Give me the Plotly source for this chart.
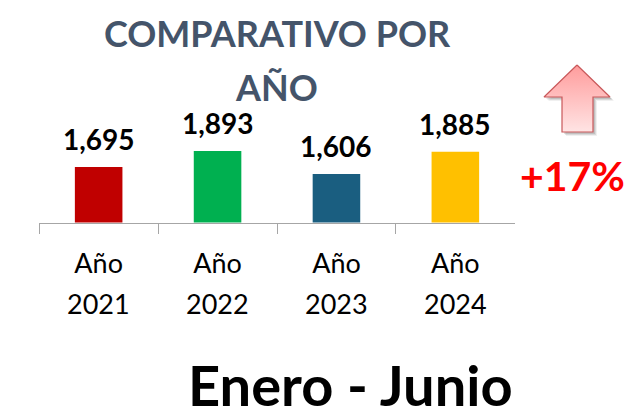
import plotly.graph_objects as go

# --- data -------------------------------------------------------------
years = ["2021", "2022", "2023", "2024"]
totals = [1695, 1893, 1606, 1885]
bar_colors = ["#C00000", "#00B050", "#1A5E80", "#FFC000"]
tick_word = "Año"
title_lines = ["COMPARATIVO POR", "AÑO"]
period_label = "Enero - Junio"

growth_pct = round((totals[-1] / totals[-2] - 1) * 100)
growth_label = f"+{growth_pct}%"

# --- canvas helpers (pixel -> paper fraction) -------------------------
W, H = 628, 418


def fx(px):
    return px / W


def fy(px):
    return (H - px) / H


FONT = "Lato"
TITLE_COLOR = "#44546A"
AXIS_GRAY = "#A6A6A6"

fig = go.Figure()

fig.add_trace(
    go.Bar(
        x=years,
        y=totals,
        width=0.4,
        marker=dict(color=bar_colors, line_width=0),
        hoverinfo="skip",
        showlegend=False,
    )
)

# Up arrow decoration drawn on a full-canvas overlay axis (pixel units)
arrow_x = [577, 610, 593, 593, 562, 562, 544, 577]
arrow_y = [65, 97, 97, 132, 132, 97, 97, 65]

for dx, alpha in [(4, 0.08), (3, 0.12), (2, 0.16)]:
    fig.add_trace(
        go.Scatter(
            x=[v + dx for v in arrow_x],
            y=[v + dx for v in arrow_y],
            xaxis="x2",
            yaxis="y2",
            mode="lines",
            fill="toself",
            fillcolor=f"rgba(60,60,60,{alpha})",
            line=dict(width=0),
            hoverinfo="skip",
            showlegend=False,
        )
    )

fig.add_trace(
    go.Scatter(
        x=arrow_x,
        y=arrow_y,
        xaxis="x2",
        yaxis="y2",
        mode="lines",
        fill="toself",
        fillgradient=dict(
            type="vertical",
            start=65,
            stop=132,
            colorscale=[[0, "#FF9C9C"], [1, "#FFE4E4"]],
        ),
        line=dict(color="#C9585A", width=1.2),
        hoverinfo="skip",
        showlegend=False,
    )
)

annotations = []

# value labels above each bar (category index positions)
for i, val in enumerate(totals):
    annotations.append(
        dict(
            x=i,
            y=val,
            xref="x",
            yref="y",
            text=f"<b>{val:,}</b>",
            showarrow=False,
            yanchor="middle",
            yshift=28,
            font=dict(family=FONT, size=28, color="#000000"),
        )
    )

# second line of each category label
for i, yr in enumerate(years):
    annotations.append(
        dict(
            x=i,
            y=fy(303.5),
            xref="x",
            yref="paper",
            text=yr,
            showarrow=False,
            yanchor="middle",
            font=dict(family=FONT, size=27, color="#000000"),
        )
    )

# title
annotations.append(
    dict(
        x=fx(277), y=fy(33.5), xref="paper", yref="paper",
        text=f"<b>{title_lines[0]}</b>", showarrow=False,
        xanchor="center", yanchor="middle",
        font=dict(family=FONT, size=36, color=TITLE_COLOR),
    )
)
annotations.append(
    dict(
        x=fx(276), y=fy(87), xref="paper", yref="paper",
        text=f"<b>{title_lines[1]}</b>", showarrow=False,
        xanchor="center", yanchor="middle",
        font=dict(family=FONT, size=36, color=TITLE_COLOR),
    )
)

# period footer
annotations.append(
    dict(
        x=fx(350.6), y=fy(384), xref="paper", yref="paper",
        text=f"<b>{period_label}</b>", showarrow=False,
        xanchor="center", yanchor="middle",
        font=dict(family=FONT, size=56, color="#000000"),
    )
)

# growth badge
annotations.append(
    dict(
        x=fx(518), y=fy(175), xref="paper", yref="paper",
        text=f"<b>{growth_label}</b>", showarrow=False,
        xanchor="left", yanchor="middle",
        font=dict(family=FONT, size=41, color="#FF0000"),
    )
)

fig.update_layout(
    width=W,
    height=H,
    margin=dict(l=0, r=0, t=0, b=0),
    paper_bgcolor="white",
    plot_bgcolor="rgba(0,0,0,0)",
    showlegend=False,
    annotations=annotations,
    xaxis=dict(
        domain=[fx(39.2), fx(514.8)],
        type="category",
        range=[-0.5, 3.5],
        tickmode="array",
        tickvals=years,
        ticktext=[tick_word] * len(years),
        tickson="boundaries",
        ticks="outside",
        ticklen=10,
        tickcolor=AXIS_GRAY,
        tickwidth=1,
        ticklabelstandoff=17,
        showline=True,
        linecolor=AXIS_GRAY,
        linewidth=1,
        showgrid=False,
        zeroline=False,
        tickfont=dict(family=FONT, size=27, color="#000000"),
        automargin=False,
        fixedrange=True,
    ),
    yaxis=dict(
        domain=[fy(222.5), fy(142.5)],
        range=[1000, 2000],
        visible=False,
        showgrid=False,
        zeroline=False,
        automargin=False,
        fixedrange=True,
    ),
    xaxis2=dict(
        domain=[0, 1],
        range=[0, W],
        anchor="y2",
        visible=False,
        fixedrange=True,
    ),
    yaxis2=dict(
        domain=[0, 1],
        range=[H, 0],
        anchor="x2",
        visible=False,
        fixedrange=True,
    ),
)

fig.write_html("out.html", config={"displayModeBar": False})
